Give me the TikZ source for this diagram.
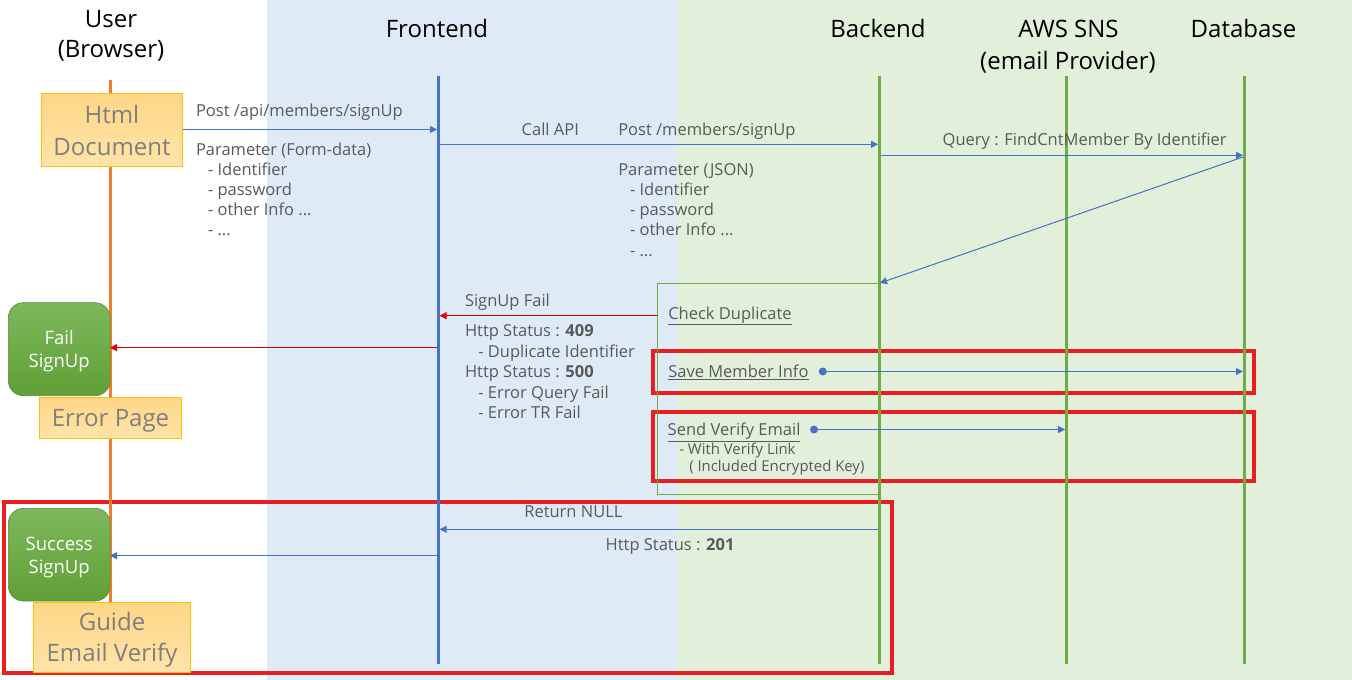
\documentclass[tikz,border=0pt]{standalone}
\usepackage{fontspec}
\setmainfont{Open Sans}
\usetikzlibrary{arrows.meta}
\definecolor{bgblue}{RGB}{222,235,247}
\definecolor{bggreen}{RGB}{226,239,218}
\definecolor{lineblue}{RGB}{68,114,196}
\definecolor{linegreen}{RGB}{112,173,71}
\definecolor{lineorange}{RGB}{237,125,49}
\definecolor{txtgray}{RGB}{89,89,89}
\definecolor{boxtxt}{RGB}{127,127,127}
\definecolor{hlred}{RGB}{232,30,35}
\definecolor{arrred}{RGB}{230,0,0}
\definecolor{boxgold}{RGB}{255,192,0}
\definecolor{boxtop}{RGB}{255,214,135}
\definecolor{boxbot}{RGB}{255,228,168}
\definecolor{gtop}{RGB}{125,184,92}
\definecolor{gbot}{RGB}{96,160,54}
\begin{document}
\begin{tikzpicture}[x=1pt,y=-1pt,
  every node/.style={inner sep=0pt, outer sep=0pt},
  ttl/.style={font=\fontsize{24}{31}\selectfont, anchor=base, text=black},
  lbl/.style={font=\fontsize{16.5}{20}\selectfont, text=txtgray, anchor=base west},
  sml/.style={font=\fontsize{14.9}{18}\selectfont, text=txtgray, anchor=base west},
  doctxt/.style={font=\fontsize{24}{31}\selectfont, text=boxtxt, anchor=base},
  gtxt/.style={font=\fontsize{18.5}{23}\selectfont, text=white, anchor=base},
  docbox/.style={draw=boxgold, line width=1pt, top color=boxtop, bottom color=boxbot},
  gbox/.style={draw=linegreen!80!black, line width=0.6pt, rounded corners=15pt, top color=gtop, bottom color=gbot},
  life/.style={line width=2.6pt},
  msg/.style={draw=lineblue, line width=1pt, -{Triangle[length=7pt,width=7pt]}},
  msgred/.style={draw=arrred, line width=1.2pt, -{Triangle[length=7pt,width=7pt]}},
  hl/.style={draw=hlred, line width=4pt},
]
\useasboundingbox (0,0) rectangle (1352,680);
\fill[white] (0,0) rectangle (267,680);
\fill[bgblue] (267,0) rectangle (677.5,680);
\fill[bggreen] (677.5,0) rectangle (1352,680);

% titles
\node[ttl] (tUser1) at (111,27.3) {User};
\node[ttl] (tUser2) at (111,57.5) {(Browser)};
\node[ttl] (tFE) at (437,37.3) {Frontend};
\node[ttl] (tBE) at (878,37.3) {Backend};
\node[ttl] (tSNS1) at (1068.5,37.3) {AWS SNS};
\node[ttl] (tSNS2) at (1068,69.3) {(email Provider)};
\node[ttl] (tDB) at (1243.5,37.3) {Database};

% highlight boxes
\draw[hl] (653,351) rectangle (1253.5,393) coordinate (hl1);
\draw[hl] (653,412) rectangle (1253.5,481) coordinate (hl2);
\draw[hl] (3.7,501.7) rectangle (891.5,673.3) coordinate (hl3);

% lifelines
\coordinate (uTop) at (110.3,80);   \coordinate (uBot) at (110.3,640);
\coordinate (feTop) at (438.3,76);  \coordinate (feBot) at (438.3,664);
\coordinate (beTop) at (879.3,76);  \coordinate (beBot) at (879.3,664);
\coordinate (snsTop) at (1066.5,76); \coordinate (snsBot) at (1066.5,664);
\coordinate (dbTop) at (1244.3,76); \coordinate (dbBot) at (1244.3,664);
\draw[life, lineorange] (uTop) -- (uBot);
\draw[life, lineblue] (feTop) -- (feBot);
\draw[life, linegreen] (beTop) -- (beBot);
\draw[life, linegreen] (snsTop) -- (snsBot);
\draw[life, linegreen] (dbTop) -- (dbBot);

% backend process frame
\draw[linegreen, line width=1pt] (657.7,283.3) rectangle (878.5,494) coordinate (proc);

% Html document
\node[docbox, minimum width=141.4pt, minimum height=72.7pt] (html) at (112,129.7) {};
\node[doctxt] (htmlT1) at (112,123.3) {Html};
\node[doctxt] (htmlT2) at (112,155) {Document};

% message 1
\coordinate (m1b) at (437,129.5);
\draw[msg] (html.east |- m1b) -- (m1b);
\node[lbl] (l1) at (196,116.7) {Post /api/members/signUp};
\node[lbl] (p1a) at (196,155) {Parameter (Form-data)};
\node[lbl] (p1b) at (208,175) {- Identifier};
\node[lbl] (p1c) at (208,195) {- password};
\node[lbl] (p1d) at (208,215.5) {- other Info ...};
\node[lbl] (p1e) at (208,235.5) {- ...};

% message 2
\coordinate (m2a) at (439.5,144.3); \coordinate (m2b) at (878,144.3);
\draw[msg] (m2a) -- (m2b);
\node[lbl] (l2a) at (521.7,135) {Call API};
\node[lbl] (l2b) at (618.3,135) {Post /members/signUp};
\node[lbl] (p2a) at (618.3,175) {Parameter (JSON)};
\node[lbl] (p2b) at (630,195) {- Identifier};
\node[lbl] (p2c) at (630,215) {- password};
\node[lbl] (p2d) at (630,235.7) {- other Info ...};
\node[lbl] (p2e) at (630,256) {- ...};

% message 3
\coordinate (m3a) at (880.5,155.3); \coordinate (m3b) at (1243,155.3);
\draw[msg] (m3a) -- (m3b);
\node[lbl] (l3) at (942.7,145) {Query : FindCntMember By Identifier};

% message 4 (DB back to backend)
\coordinate (m4a) at (1243,157); \coordinate (m4b) at (880,283);
\draw[msg] (m4a) -- (m4b);

% check duplicate
\node[lbl] (chk) at (668.3,319.3) {\underline{Check Duplicate}};
\coordinate (m5a) at (657.7,315.7); \coordinate (m5b) at (439.6,315.7);
\draw[msgred] (m5a) -- (m5b);
\node[lbl] (l5) at (465,306) {SignUp Fail};
\node[lbl] (s1) at (465,336.7) {Http Status : \textbf{409}};
\node[lbl] (s2) at (478.3,357.3) {- Duplicate Identifier};
\node[lbl] (s3) at (465,377) {Http Status : \textbf{500}};
\node[lbl] (s4) at (478.3,398.3) {- Error Query Fail};
\node[lbl] (s5) at (478.3,418.3) {- Error TR Fail};

% fail signup
\node[gbox, minimum width=101.7pt, minimum height=93pt] (fail) at (59.2,349.2) {};
\node[gtxt] (failT1) at (59.2,344) {Fail};
\node[gtxt] (failT2) at (59.2,367.3) {SignUp};
\coordinate (m6a) at (437,347.7);
\draw[msgred] (m6a) -- (fail.east |- m6a);
\node[docbox, minimum width=142.4pt, minimum height=41pt] (err) at (110.5,417.8) {};
\node[doctxt] (errT) at (110.5,426.7) {Error Page};

% save member info
\node[lbl] (save) at (668.3,377.3) {\underline{Save Member Info}};
\coordinate (saveDot) at (822.7,371.5); \coordinate (saveEnd) at (1243,371.5);
\fill[lineblue] (saveDot) circle (4);
\draw[msg] (saveDot) -- (saveEnd);

% send verify email
\node[lbl] (send) at (667.7,435.7) {\underline{Send Verify Email}};
\node[sml] (send2) at (679.3,454) {- With Verify Link};
\node[sml] (send3) at (689.3,471.7) {( Included Encrypted Key)};
\coordinate (sendDot) at (814,429.5); \coordinate (sendEnd) at (1065.2,429.5);
\fill[lineblue] (sendDot) circle (4);
\draw[msg] (sendDot) -- (sendEnd);

% return null
\coordinate (m7a) at (877.8,529.3); \coordinate (m7b) at (439.6,529.3);
\draw[msg] (m7a) -- (m7b);
\node[lbl] (l7) at (524.3,517.7) {Return NULL};
\node[lbl] (l7b) at (605.7,550.7) {Http Status : \textbf{201}};

% success signup
\node[gbox, minimum width=101.7pt, minimum height=92.7pt] (succ) at (59.2,554.7) {};
\node[gtxt] (succT1) at (59.2,550) {Success};
\node[gtxt] (succT2) at (59.2,573.3) {SignUp};
\coordinate (m8a) at (437,555.7);
\draw[msg] (m8a) -- (succ.east |- m8a);
\node[docbox, minimum width=157.4pt, minimum height=70.4pt] (guide) at (112,637.5) {};
\node[doctxt] (guideT1) at (112,630.7) {Guide};
\node[doctxt] (guideT2) at (112,661.7) {Email Verify};
\end{tikzpicture}
\end{document}
